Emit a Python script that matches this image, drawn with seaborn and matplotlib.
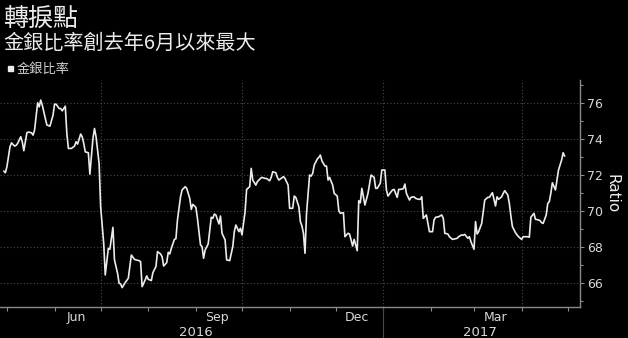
import matplotlib
matplotlib.use("Agg")
import matplotlib.pyplot as plt
import matplotlib.dates as mdates
from matplotlib.ticker import MultipleLocator
from matplotlib.patches import Rectangle
import seaborn as sns
import pandas as pd

# ---------------- data ----------------
start_date = "2016-05-01"
# day offsets from start_date for each observation
days = [
    -2, -1, 0, 2, 3, 5, 6, 7, 9, 10, 11, 13, 14, 16, 17, 18, 20, 21, 22, 23,
    25, 26, 28, 30, 31, 32, 34, 35, 36, 38, 39, 40, 42, 44, 45, 46, 48, 49, 50, 51,
    53, 54, 56, 57, 58, 60, 61, 63, 64, 66, 67, 69, 70, 72, 73,
    74, 75, 77, 79, 80, 81, 83, 84, 86, 87, 88, 90, 91, 92, 94, 95, 97, 98, 100, 101,
    102, 104, 105, 106, 107, 109, 110, 111, 113, 114, 116, 117, 119, 120, 121, 123, 124, 126, 127, 128,
    129, 131, 133, 134, 135, 136, 138, 139, 140, 142, 143,
    145, 147, 148, 149, 151, 152, 153, 155, 156, 158, 159, 160, 162, 163, 165, 166, 168, 169, 171, 172,
    173, 175, 176, 177, 179, 180, 181, 183, 184, 186, 187, 188, 190, 191, 192, 193, 194, 195, 197, 198,
    199, 200, 202, 203, 204, 205, 207, 208, 209, 210, 212, 213, 215, 216,
    217, 219, 220, 222, 223, 225, 226, 228, 229, 230, 231, 233, 235, 236, 237, 239, 240, 241, 243, 244,
    246, 247, 248, 250, 251, 252, 254, 255, 256, 258, 259, 260, 262, 263, 265, 266, 268, 269, 270, 271,
    273, 274, 275, 277, 278, 279, 281, 283, 284, 285, 287, 288,
    290, 292, 293, 294, 296, 297, 298, 300, 301, 302, 304, 305, 306, 307, 309, 310, 311, 313, 314, 315,
    316, 318, 319, 320, 322, 323, 324, 326, 327, 328, 329, 331, 332, 333, 335, 336, 337, 339, 340, 341,
    343, 344, 346, 347, 348, 349, 351, 352, 353, 354, 355, 357, 358, 359, 361, 362, 363,
]
gold_silver_ratio = [
    72.24, 72.15, 72.48, 73.59, 73.81, 73.63, 73.67, 73.78, 74.15, 73.87,
    73.37, 74.37, 74.41, 74.37, 74.24, 74.52, 76.04, 75.81, 76.19, 75.91,
    75.17, 74.80, 74.74, 75.35, 75.96, 75.96, 75.72, 75.72, 75.59, 75.85,
    74.33, 73.50, 73.50, 73.63, 73.87, 73.74, 74.30, 74.15, 73.78, 73.31,
    73.26, 72.07, 74.06, 74.61, 74.15, 72.67, 70.26, 68.22, 66.46, 67.94,
    67.89, 69.11, 67.30, 66.56, 66.00,
    65.96, 65.76, 66.04, 66.28, 66.93, 67.57, 67.33, 67.30, 67.26, 67.20,
    65.81, 66.19, 66.41, 66.22, 66.15, 66.59, 66.93, 67.76, 67.63, 67.48,
    66.96, 67.15, 67.72, 67.63, 67.94, 68.44, 68.48, 69.52, 70.81, 71.19,
    71.37, 71.28, 70.72, 70.11, 70.39, 70.22, 69.61, 68.13, 68.04, 67.39,
    67.85, 68.19, 69.67, 69.61, 69.85, 69.80, 69.30, 69.74, 68.78, 68.41,
    67.30,
    67.26, 68.04, 68.87, 69.24, 68.87, 69.06, 68.69, 69.98, 71.22, 71.37,
    72.39, 71.74, 71.46, 71.65, 71.83, 71.89, 71.83, 71.83, 71.70, 71.89,
    72.20, 72.15, 71.89, 71.74, 71.87, 71.93, 71.83, 71.46, 70.17, 70.17,
    70.85, 70.78, 70.26, 69.43, 69.19, 68.78, 67.67, 69.89, 72.02, 71.96,
    72.11, 72.57, 72.91, 73.00, 73.13, 72.81, 72.52, 72.52, 71.74, 71.89,
    71.46, 71.00, 70.85, 70.04,
    69.89, 69.93, 68.59, 68.78, 68.74, 68.07, 68.44, 67.81, 70.59, 70.48,
    71.28, 70.35, 71.00, 71.52, 72.02, 71.89, 71.28, 71.28, 71.56, 72.30,
    72.30, 71.19, 70.85, 71.09, 71.19, 71.22, 70.78, 71.22, 71.22, 71.26,
    71.52, 71.00, 70.63, 70.78, 70.81, 70.72, 70.67, 70.67, 70.81, 69.61,
    69.80, 69.33, 68.87, 68.87, 69.52, 69.67, 69.70, 69.80, 69.61, 68.78,
    68.74, 68.59,
    68.44, 68.48, 68.50, 68.59, 68.69, 68.67, 68.72, 68.50, 68.59, 68.31,
    67.89, 69.43, 68.74, 68.87, 69.33, 69.98, 70.63, 70.78, 70.78, 70.91,
    71.04, 70.30, 70.81, 70.67, 70.81, 71.00, 71.15, 70.91, 70.44, 69.74,
    69.15, 68.81, 68.69, 68.59, 68.44, 68.59, 68.59, 68.59, 68.56, 69.67,
    69.89, 69.56, 69.52, 69.48, 69.37, 69.33, 69.80, 70.44, 70.54, 71.00,
    71.59, 71.19, 71.74, 72.30, 72.85, 73.26, 73.07,
]
month_labels = ["Jun", "Sep", "Dec", "Mar"]
month_label_dates = ["2016-06-15", "2016-09-15", "2016-12-15", "2017-03-15"]
year_labels = ["2016", "2017"]
year_label_dates = ["2016-09-01", "2017-03-05"]
year_break = "2017-01-01"
y_ticks = [66, 68, 70, 72, 74, 76]

title = "轉捩點"
subtitle = "金銀比率創去年6月以來最大"
series_name = "金銀比率"
y_label = "Ratio"

# ---------------- style ----------------
sns.set_theme(style="dark")
plt.rcParams['font.family'] = ['Noto Sans CJK TC', 'DejaVu Sans']

FG = "#ececec"
AX = "#8a8a8a"
GRID = "#4a4a4a"

dates = pd.Timestamp(start_date) + pd.to_timedelta(days, unit="D")
df = pd.DataFrame({"date": dates, "ratio": gold_silver_ratio})

fig = plt.figure(figsize=(6.28, 3.38), dpi=100, facecolor="black")
ax = fig.add_axes([0.0, 0.0917, 0.9236, 0.6713])
ax.set_facecolor("black")

sns.lineplot(data=df, x="date", y="ratio", ax=ax, color=FG, linewidth=1.2)

ax.set_xlim(pd.Timestamp("2016-04-26 12:00"), pd.Timestamp("2017-05-09"))
ax.set_ylim(64.68, 77.3)

# y axis on the right
ax.yaxis.tick_right()
ax.yaxis.set_label_position("right")
ax.set_yticks(y_ticks)
ax.yaxis.set_minor_locator(MultipleLocator(1))
ax.set_ylabel(y_label, rotation=270, color=FG, fontsize=11, labelpad=12,
              family=["DejaVu Sans"])
ax.tick_params(axis="y", which="both", right=True, left=False, direction="out",
               color=AX, labelcolor="#d8d8d8", labelsize=9, pad=2, width=0.8)
ax.tick_params(axis="y", which="major", length=3)
ax.tick_params(axis="y", which="minor", length=2)
for lab in ax.get_yticklabels():
    lab.set_family(["DejaVu Sans"])

# x axis: grid at quarter starts, ticks at every month start
ax.xaxis.set_major_locator(mdates.MonthLocator(bymonth=(1, 4, 7, 10)))
ax.xaxis.set_minor_locator(mdates.MonthLocator())
ax.tick_params(axis="x", which="both", bottom=True, length=3, color=AX,
               labelbottom=False, width=0.8)
ax.set_xlabel("")

ax.grid(which="major", axis="both", color=GRID, linestyle=(0, (1, 2)), linewidth=0.8)
ax.grid(which="minor", visible=False)

for s in ["left", "top"]:
    ax.spines[s].set_visible(False)
for s in ["right", "bottom"]:
    ax.spines[s].set_visible(True)
    ax.spines[s].set_color(AX)
    ax.spines[s].set_linewidth(1.0)

xt = ax.get_xaxis_transform()
for lab, d in zip(month_labels, month_label_dates):
    ax.text(pd.Timestamp(d), -0.046, lab, transform=xt, ha="center", va="center",
            color="#d8d8d8", fontsize=9, family=["DejaVu Sans"])
for lab, d in zip(year_labels, year_label_dates):
    ax.text(pd.Timestamp(d), -0.112, lab, transform=xt, ha="center", va="center",
            color="#d8d8d8", fontsize=9.5, family=["DejaVu Sans"])
ax.plot([pd.Timestamp(year_break)] * 2, [0, -0.2], transform=xt, color=GRID,
        linewidth=0.8, clip_on=False)

# titles and legend
fig.text(0.005, 1 - 19 / 338, title, ha="left", va="center", color=FG, fontsize=18)
fig.text(0.005, 1 - 43 / 338, subtitle, ha="left", va="center", color=FG, fontsize=14.5)
fig.patches.append(Rectangle((8 / 628, 1 - 71 / 338), 5 / 628, 5 / 338,
                             transform=fig.transFigure, color=FG, figure=fig))
fig.text(17 / 628, 1 - 69 / 338, series_name, ha="left", va="center", color="#d0d0d0",
         fontsize=9.5)

fig.savefig("out.png", dpi=100, facecolor="black")
